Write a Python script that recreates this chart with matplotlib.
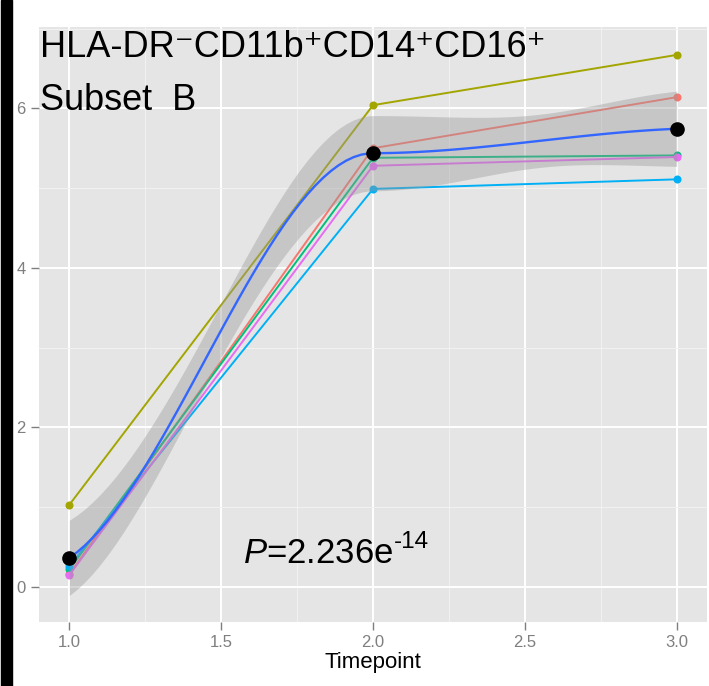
import math
import numpy as np
import matplotlib
matplotlib.use('Agg')
import matplotlib.pyplot as plt
from matplotlib.patches import Rectangle
from matplotlib.ticker import FixedLocator
from matplotlib.transforms import offset_copy

plt.rcParams['font.family'] = ['Liberation Sans', 'DejaVu Sans']
plt.rcParams['mathtext.fontset'] = 'custom'
plt.rcParams['mathtext.rm'] = 'Liberation Sans'
plt.rcParams['mathtext.it'] = 'Liberation Sans:italic'

# marker intensity per subject at each timepoint
timepoint = [1, 2, 3]
subj_a = [0.16, 5.50, 6.14]
subj_b = [1.03, 6.04, 6.67]
subj_c = [0.22, 5.38, 5.41]
subj_d = [0.26, 4.99, 5.11]
subj_e = [0.15, 5.28, 5.39]
subjects = [subj_a, subj_b, subj_c, subj_d, subj_e]
colors = ['#F8766D', '#A3A500', '#00BF7D', '#00B0F6', '#E76BF3']

xticks = [1.0, 1.5, 2.0, 2.5, 3.0]
yticks = [0, 2, 4, 6]
title_line1 = 'HLA-DR\u207bCD11b\u207aCD14\u207aCD16\u207a'
title_line2 = 'Subset  B'
p_main = r'$P$=2.236e'
p_exp = '-14'


def local_fit_ops(x, v, span=0.75):
    # local quadratic fit at vertex v, returns operators for value and slope
    d = np.abs(x - v)
    q = int(np.floor(span * len(x)))
    rho = np.sort(d)[q - 1]
    w = np.where(d < rho, (1 - (d / rho) ** 3) ** 3, 0.0)
    sw = np.sqrt(w)
    X = np.column_stack([np.ones_like(x), x - v, (x - v) ** 2])
    ops = np.linalg.pinv(X * sw[:, None]) * sw[None, :]
    return ops[0], ops[1]


def hermite_ops(xs, verts, vals, slopes):
    rows = []
    for xx in xs:
        k = min(int(np.searchsorted(verts, xx, side='right')) - 1, len(verts) - 2)
        h = verts[k + 1] - verts[k]
        t = (xx - verts[k]) / h
        h00 = 2 * t ** 3 - 3 * t ** 2 + 1
        h10 = t ** 3 - 2 * t ** 2 + t
        h01 = -2 * t ** 3 + 3 * t ** 2
        h11 = t ** 3 - t ** 2
        rows.append(h00 * vals[k] + h10 * h * slopes[k]
                    + h01 * vals[k + 1] + h11 * h * slopes[k + 1])
    return np.array(rows)


def t_quantile(p, df):
    xs = np.linspace(-60, 60, 400001)
    c = math.exp(math.lgamma((df + 1) / 2) - math.lgamma(df / 2)) / math.sqrt(df * math.pi)
    pdf = c * (1 + xs ** 2 / df) ** (-(df + 1) / 2)
    cdf = np.cumsum(pdf) * (xs[1] - xs[0])
    return float(np.interp(p, cdf, xs))


# loess smooth (span 0.75, degree 2) with 95% band
x_all = np.repeat(np.array(timepoint, float)[None, :], len(subjects), axis=0).ravel()
y_all = np.array(subjects, float).ravel()
verts = np.array(timepoint, float)
vals, slopes = zip(*[local_fit_ops(x_all, v) for v in verts])
xgrid = np.linspace(1, 3, 80)
L_grid = hermite_ops(xgrid, verts, vals, slopes)
L_data = hermite_ops(x_all, verts, vals, slopes)
R = np.eye(len(x_all)) - L_data
RtR = R.T @ R
one_delta = np.trace(RtR)
two_delta = np.trace(RtR @ RtR)
sigma = math.sqrt(np.sum((R @ y_all) ** 2) / one_delta)
tq = t_quantile(0.975, one_delta ** 2 / two_delta)
fit = L_grid @ y_all
se = sigma * np.sqrt(np.sum(L_grid ** 2, axis=1))
means = np.mean(subjects, axis=0)

fig = plt.figure(figsize=(7.09, 6.86), dpi=100)
ax = fig.add_axes([39 / 709, 64 / 686, 668 / 709, 595 / 686])
ax.set_facecolor('#E5E5E5')

for vals_s, col in zip(subjects, colors):
    ax.plot(timepoint, vals_s, color=col, lw=1.4, marker='o', ms=5.8,
            mec='none', zorder=2)
ax.fill_between(xgrid, fit - tq * se, fit + tq * se, color='#999999',
                alpha=0.4, lw=0, zorder=3)
ax.plot(xgrid, fit, color='#3366FF', lw=1.7, zorder=4)
ax.plot(timepoint, means, 'o', color='black', ms=9.5, zorder=5)

ax.set_xlim(0.9, 3.1)
ax.set_ylim(-0.44, 7.02)
ax.set_xticks(xticks)
ax.set_xticklabels([f'{v:.1f}' for v in xticks])
ax.set_yticks(yticks)
ax.set_yticklabels([str(v) for v in yticks])
ax.xaxis.set_minor_locator(FixedLocator([1.25, 1.75, 2.25, 2.75]))
ax.yaxis.set_minor_locator(FixedLocator([1, 3, 5, 7]))
ax.set_axisbelow(True)
ax.grid(which='major', color='white', lw=1.4)
ax.grid(which='minor', color='#F2F2F2', lw=0.7)
ax.tick_params(which='major', length=5.5, width=1.0, color='#7F7F7F',
               labelcolor='#7F7F7F', labelsize=12, pad=4)
ax.tick_params(which='minor', length=0)
for sp in ax.spines.values():
    sp.set_visible(False)
ax.set_xlabel('Timepoint', fontsize=16, labelpad=1)

ax.text(0.903, 6.65, title_line1, fontsize=26, va='baseline', ha='left', zorder=6)
ax.text(0.903, 5.98, title_line2, fontsize=26, va='baseline', ha='left', zorder=6)

# p-value with a raised exponent placed after the main text
pt = ax.text(1.571, 0.30, p_main, fontsize=25, va='baseline', ha='left', zorder=6)
fig.canvas.draw()
bb = pt.get_window_extent()
xr, _ = ax.transData.inverted().transform((bb.x1, 0))
ax.text(xr, 0.30, p_exp, fontsize=17.5, va='baseline', ha='left', zorder=6,
        transform=offset_copy(ax.transData, fig=fig, x=1, y=11, units='points'))

fig.patches.append(Rectangle((1 / 709, 0), 11 / 709, 1, transform=fig.transFigure,
                             color='black', zorder=10))

fig.savefig('out.png', dpi=100)
